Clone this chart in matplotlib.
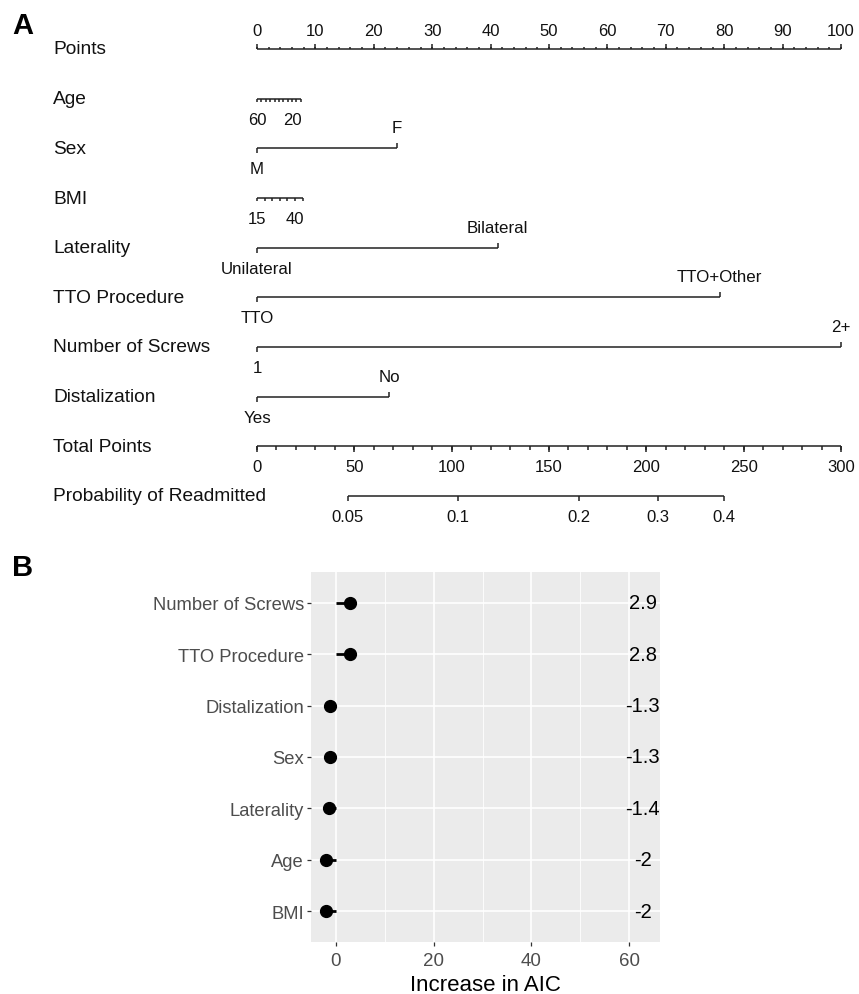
import matplotlib
matplotlib.use('Agg')
import matplotlib.pyplot as plt
import matplotlib.transforms as mtransforms

plt.rcParams['font.family'] = ['Liberation Sans', 'DejaVu Sans']

# ---- nomogram (panel A) ----
row_names = ['Points', 'Age', 'Sex', 'BMI', 'Laterality', 'TTO Procedure',
             'Number of Screws', 'Distalization', 'Total Points',
             'Probability of Readmitted']

points_major = list(range(0, 101, 10))
points_minor = list(range(0, 101, 2))

age_ticks = [60, 55, 50, 45, 40, 35, 30, 25, 20, 15, 10]
age_points = [0, 0.75, 1.5, 2.25, 3.0, 3.75, 4.5, 5.25, 6.0, 6.75, 7.5]
age_shown = [60, 20]

bmi_ticks = [15, 20, 25, 30, 35, 40, 45]
bmi_points = [0, 1.3, 2.6, 3.9, 5.2, 6.5, 7.8]
bmi_shown = [15, 40]

sex_levels = ['M', 'F']
sex_points = [0, 24]
lat_levels = ['Unilateral', 'Bilateral']
lat_points = [0, 41.2]
tto_levels = ['TTO', 'TTO+Other']
tto_points = [0, 79.2]
screw_levels = ['1', '2+']
screw_points = [0, 100]
dist_levels = ['Yes', 'No']
dist_points = [0, 22.6]

total_major = list(range(0, 301, 50))
total_minor = list(range(0, 301, 10))

prob_ticks = ['0.05', '0.1', '0.2', '0.3', '0.4']
prob_total = [46.7, 103.3, 165.5, 206.0, 240.0]

# ---- AIC (panel B) ----
aic_vars = ['Number of Screws', 'TTO Procedure', 'Distalization', 'Sex',
            'Laterality', 'Age', 'BMI']
aic_vals = [2.9, 2.8, -1.3, -1.3, -1.4, -2, -2]
aic_text = ['2.9', '2.8', '-1.3', '-1.3', '-1.4', '-2', '-2']

W, H = 859, 995
fig = plt.figure(figsize=(W / 100, H / 100), dpi=100)

ax = fig.add_axes([257 / W, 1 - 497 / H, 584 / W, 447 / H])
ax.set_xlim(0, 100)
ax.set_ylim(9, 0)
ax.axis('off')

lc = '#222222'
lw = 1.1
num_fs = 12
lev_fs = 12.2
off = 0.41


def line(row, x0, x1):
    ax.plot([x0, x1], [row, row], color=lc, lw=lw, solid_capstyle='butt',
            clip_on=False)


def tick(row, x, length, up=False):
    y1 = row - length if up else row + length
    ax.plot([x, x], [row, y1], color=lc, lw=lw, solid_capstyle='butt',
            clip_on=False)


def label(row, x, s, up=False, fs=lev_fs):
    y = row - off if up else row + off
    ax.text(x, y, s, ha='center', va='center', fontsize=fs, color='#111111')


trans = mtransforms.blended_transform_factory(fig.transFigure, ax.transData)
for i, name in enumerate(row_names):
    fig.text(53 / W, i, name, transform=trans, ha='left', va='center',
             fontsize=13.8, color='#111111')

# Points
line(0, 0, 100)
for v in points_minor:
    tick(0, v, 0.05, up=True)
for v in points_major:
    tick(0, v, 0.1, up=True)
    ax.text(v, -0.37, str(v), ha='center', va='center', fontsize=num_fs,
            color='#111111')

# Age
line(1, age_points[0], age_points[-1])
for a, p in zip(age_ticks, age_points):
    tick(1, p, 0.07)
    if a in age_shown:
        label(1, p, str(a), fs=num_fs)

# Sex, Laterality, TTO, Screws, Distalization
binaries = [(2, sex_levels, sex_points), (4, lat_levels, lat_points),
            (5, tto_levels, tto_points), (6, screw_levels, screw_points),
            (7, dist_levels, dist_points)]
for row, levs, pts in binaries:
    line(row, pts[0], pts[1])
    tick(row, pts[0], 0.1)
    label(row, pts[0], levs[0])
    tick(row, pts[1], 0.1, up=True)
    label(row, pts[1], levs[1], up=True)

# BMI
line(3, bmi_points[0], bmi_points[-1])
for b, p in zip(bmi_ticks, bmi_points):
    tick(3, p, 0.07)
    if b in bmi_shown:
        label(3, p, str(b), fs=num_fs)

# Total points (0-300 mapped onto 0-100)
line(8, 0, 100)
for v in total_minor:
    tick(8, v / 3, 0.07)
for v in total_major:
    tick(8, v / 3, 0.12)
    label(8, v / 3, str(v), fs=num_fs)

# Probability
line(9, prob_total[0] / 3, prob_total[-1] / 3)
for s, t in zip(prob_ticks, prob_total):
    tick(9, t / 3, 0.1)
    label(9, t / 3, s, fs=num_fs)

fig.text(12 / W, 1 - 26 / H, 'A', fontsize=21, fontweight='bold',
         ha='left', va='center')
fig.text(12 / W, 1 - 568 / H, 'B', fontsize=21, fontweight='bold',
         ha='left', va='center')

# ---- panel B ----
axb = fig.add_axes([311 / W, 1 - 943 / H, 349 / W, 370 / H])
axb.set_facecolor('#EBEBEB')
ypos = list(range(len(aic_vars)))
axb.set_xlim(-5.1, 66.3)
axb.set_ylim(len(aic_vars) - 0.4, -0.6)
axb.set_xticks([0, 20, 40, 60])
axb.set_xticks([10, 30, 50], minor=True)
axb.set_yticks(ypos)
axb.set_yticklabels(aic_vars)
axb.set_axisbelow(True)
axb.grid(which='major', color='white', lw=1.2)
axb.grid(which='minor', axis='x', color='white', lw=0.6)
for sp in axb.spines.values():
    sp.set_visible(False)
axb.tick_params(which='major', length=3, width=0.9, color='#333333',
                labelcolor='#4D4D4D', labelsize=13.2, pad=2)
axb.tick_params(axis='x', which='major', labelsize=13.5, pad=4)
axb.tick_params(which='minor', length=0)

axb.hlines(ypos, 0, aic_vals, color='black', lw=2)
axb.plot(aic_vals, ypos, 'o', ms=8.5, color='black')
for y, s in zip(ypos, aic_text):
    axb.text(62.8, y, s, ha='center', va='center', fontsize=14.5,
             color='black')
axb.set_xlabel('Increase in AIC', fontsize=16, color='black', labelpad=4)

fig.savefig('out.png', dpi=100)
